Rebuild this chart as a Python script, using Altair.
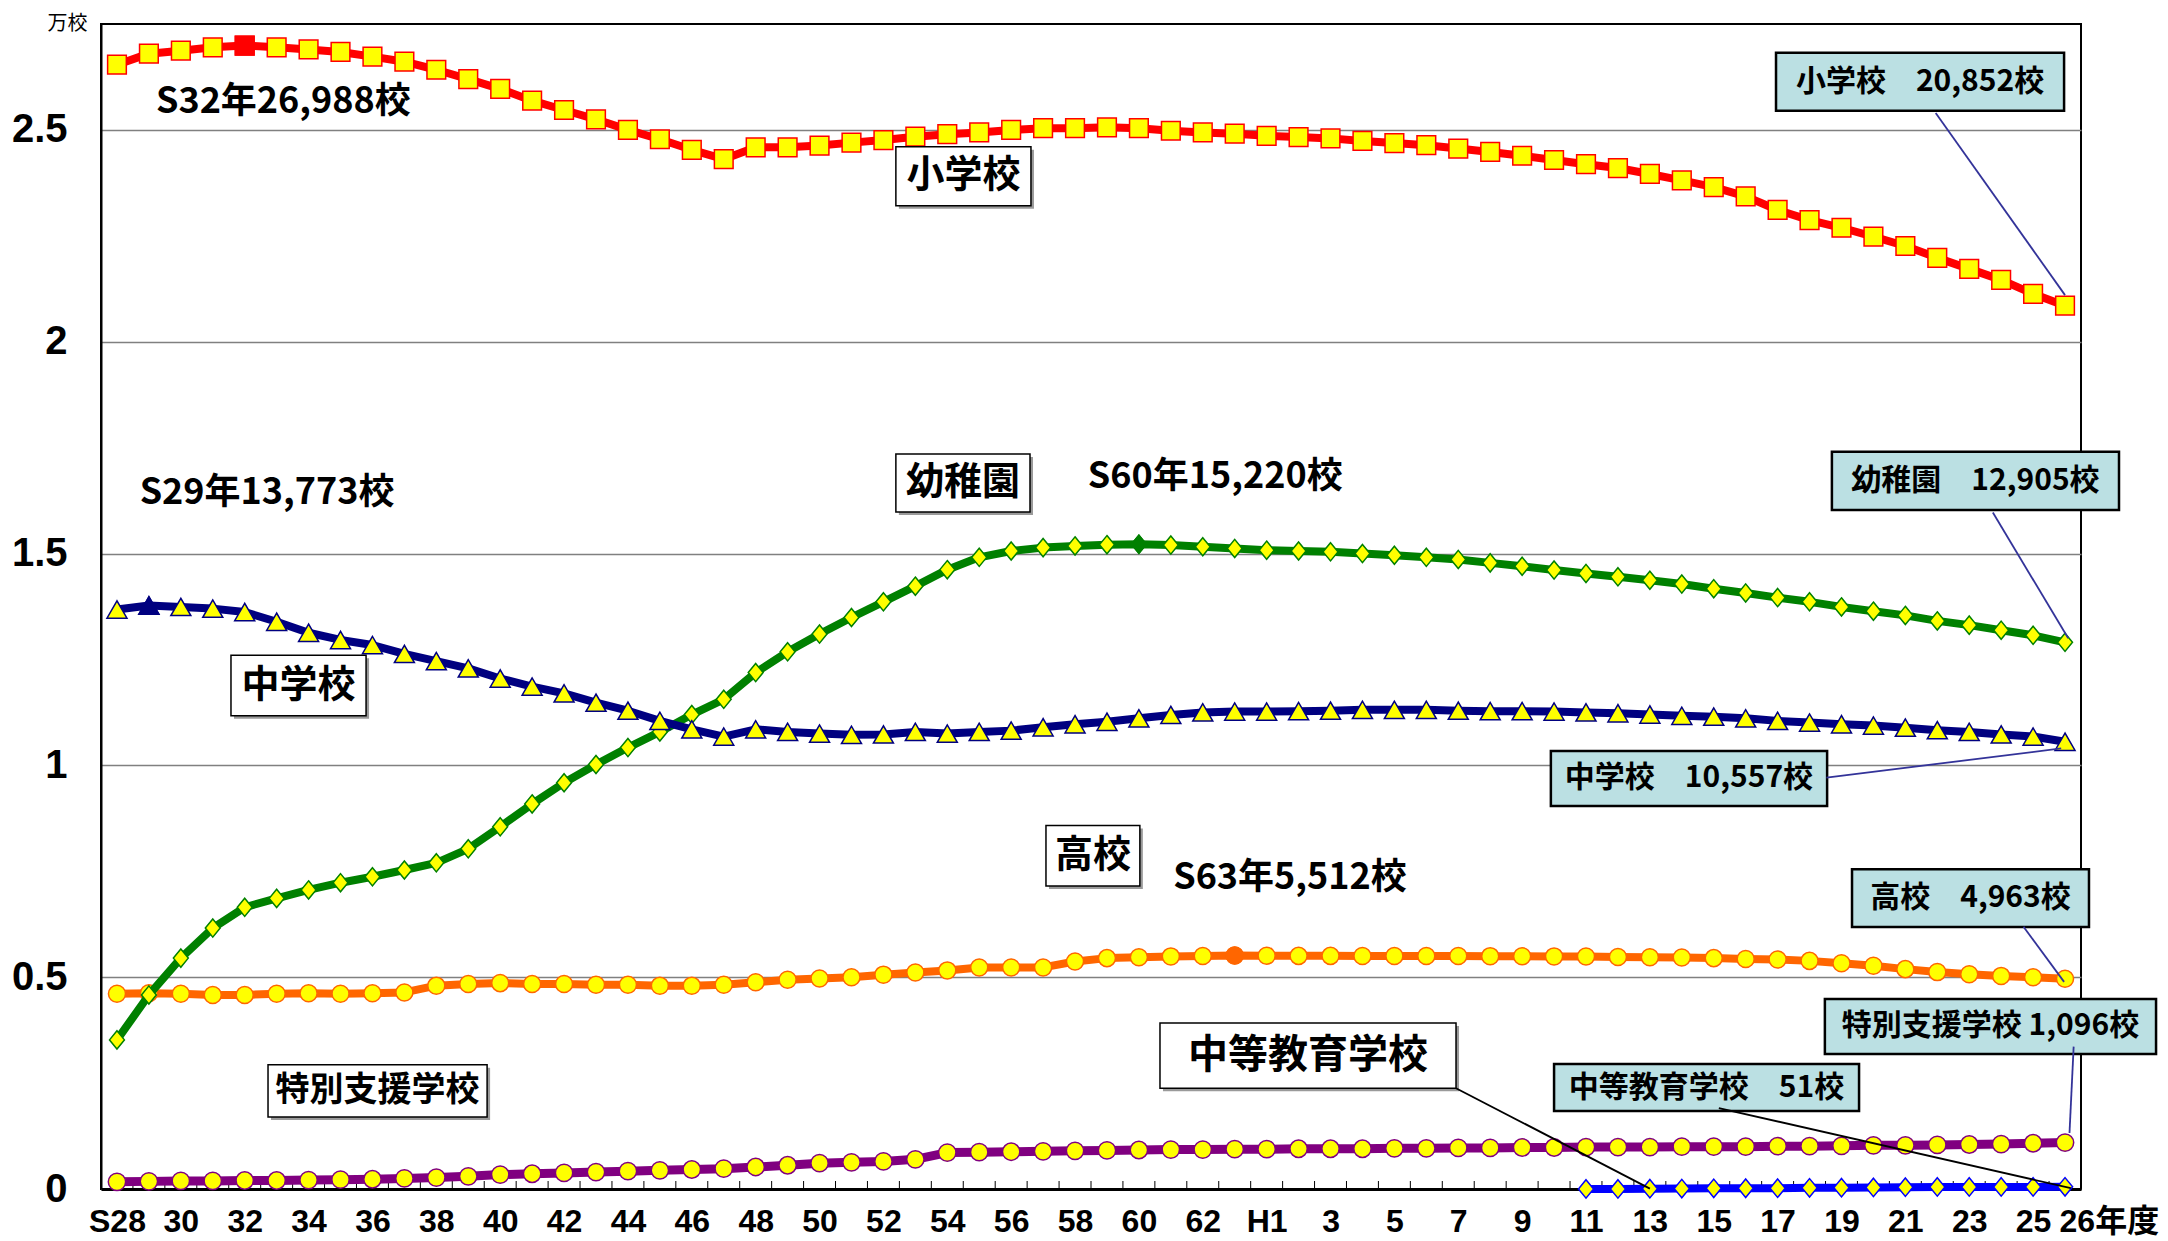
import altair as alt
import pandas as pd

# ---------------- data ----------------
years = ["S28", "S29", "S30", "S31", "S32", "S33", "S34", "S35", "S36", "S37",
         "S38", "S39", "S40", "S41", "S42", "S43", "S44", "S45", "S46", "S47",
         "S48", "S49", "S50", "S51", "S52", "S53", "S54", "S55", "S56", "S57",
         "S58", "S59", "S60", "S61", "S62", "S63",
         "H1", "H2", "H3", "H4", "H5", "H6", "H7", "H8", "H9", "H10",
         "H11", "H12", "H13", "H14", "H15", "H16", "H17", "H18", "H19", "H20",
         "H21", "H22", "H23", "H24", "H25", "H26"]

x_tick_labels = ["S28", "", "30", "", "32", "", "34", "", "36", "",
                 "38", "", "40", "", "42", "", "44", "", "46", "",
                 "48", "", "50", "", "52", "", "54", "", "56", "",
                 "58", "", "60", "", "62", "",
                 "H1", "", "3", "", "5", "", "7", "", "9", "",
                 "11", "", "13", "", "15", "", "17", "", "19", "",
                 "21", "", "23", "", "25", "26年度"]

y_tick_values = [0, 0.5, 1, 1.5, 2, 2.5]

# 単位: 万校
elementary = [2.654, 2.680, 2.687, 2.695, 2.699, 2.695, 2.690, 2.684, 2.673, 2.661,
              2.642, 2.620, 2.597, 2.569, 2.547, 2.525, 2.500, 2.478, 2.453, 2.431,
              2.459, 2.459, 2.463, 2.470, 2.476, 2.484, 2.490, 2.494, 2.500, 2.504,
              2.504, 2.506, 2.504, 2.498, 2.494, 2.491,
              2.486, 2.483, 2.480, 2.474, 2.469, 2.464, 2.456, 2.448, 2.439, 2.429,
              2.419, 2.410, 2.396, 2.381, 2.365, 2.343, 2.311, 2.287, 2.269, 2.248,
              2.226, 2.198, 2.172, 2.146, 2.113, 2.0852]

junior_high = [1.368, 1.3773, 1.374, 1.370, 1.362, 1.339, 1.313, 1.296, 1.284, 1.263,
               1.246, 1.229, 1.205, 1.186, 1.170, 1.148, 1.129, 1.105, 1.085, 1.068,
               1.085, 1.079, 1.075, 1.072, 1.073, 1.079, 1.075, 1.079, 1.082, 1.090,
               1.097, 1.103, 1.111, 1.119, 1.125, 1.127,
               1.127, 1.128, 1.129, 1.131, 1.131, 1.131, 1.129, 1.128, 1.128, 1.127,
               1.125, 1.123, 1.120, 1.117, 1.115, 1.111, 1.105, 1.101, 1.097, 1.094,
               1.089, 1.083, 1.079, 1.073, 1.068, 1.0557]

kindergarten = [0.352, 0.458, 0.545, 0.616, 0.665, 0.686, 0.706, 0.723, 0.737, 0.753,
                0.770, 0.803, 0.855, 0.909, 0.959, 1.002, 1.042, 1.079, 1.120, 1.156,
                1.219, 1.268, 1.310, 1.349, 1.386, 1.423, 1.462, 1.491, 1.506, 1.514,
                1.518, 1.521, 1.522, 1.520, 1.516, 1.512,
                1.508, 1.506, 1.504, 1.500, 1.496, 1.491, 1.486, 1.478, 1.470, 1.461,
                1.453, 1.445, 1.437, 1.428, 1.417, 1.407, 1.396, 1.386, 1.374, 1.364,
                1.354, 1.341, 1.331, 1.319, 1.307, 1.2905]

high_school = [0.461, 0.462, 0.461, 0.458, 0.458, 0.461, 0.462, 0.461, 0.462, 0.464,
               0.480, 0.484, 0.486, 0.484, 0.484, 0.482, 0.482, 0.480, 0.480, 0.482,
               0.488, 0.494, 0.497, 0.500, 0.506, 0.511, 0.516, 0.523, 0.523, 0.523,
               0.537, 0.545, 0.547, 0.549, 0.550, 0.5512,
               0.5506, 0.5503, 0.5503, 0.5501, 0.5501, 0.5501, 0.5501, 0.5496, 0.5493, 0.5490,
               0.5488, 0.5478, 0.5470, 0.5466, 0.5450, 0.5429, 0.5418, 0.5385, 0.5330, 0.5270,
               0.5190, 0.5120, 0.5070, 0.5030, 0.5000, 0.4963]

special_support = [0.017, 0.018, 0.019, 0.019, 0.020, 0.020, 0.021, 0.022, 0.023, 0.025,
                   0.027, 0.030, 0.034, 0.036, 0.038, 0.040, 0.042, 0.044, 0.046, 0.048,
                   0.052, 0.056, 0.061, 0.063, 0.065, 0.070, 0.086, 0.087, 0.088, 0.089,
                   0.090, 0.091, 0.092, 0.093, 0.093, 0.094,
                   0.094, 0.095, 0.095, 0.095, 0.096, 0.096, 0.097, 0.097, 0.098, 0.098,
                   0.099, 0.099, 0.099, 0.100, 0.100, 0.100, 0.101, 0.101, 0.102, 0.103,
                   0.103, 0.104, 0.105, 0.106, 0.108, 0.1096]

secondary = [None] * 46 + [0.0001, 0.0002, 0.0007, 0.0009, 0.0016, 0.0018, 0.0019, 0.0027,
                           0.0032, 0.0037, 0.0042, 0.0048, 0.0049, 0.0049, 0.0050, 0.0051]

# annotations (data coordinates: x = category position, y = 万校)
note_text = ["S32年26,988校", "S29年13,773校", "S60年15,220校", "S63年5,512校"]
note_x = [5.21, 4.70, 34.39, 36.73]
note_y = [2.567, 1.642, 1.681, 0.734]

label_text = ["小学校", "中学校", "幼稚園", "高校", "特別支援学校", "中等教育学校"]
label_x0 = [24.39, 3.57, 24.39, 29.09, 4.73, 32.66]
label_x1 = [28.62, 7.80, 28.59, 32.03, 11.59, 41.93]
label_y0 = [2.460, 1.260, 1.735, 0.858, 0.293, 0.392]
label_y1 = [2.321, 1.117, 1.598, 0.715, 0.170, 0.238]
label_fs = [38, 38, 38, 38, 34, 40]

callout_text = ["小学校　20,852校", "幼稚園　12,905校", "中学校　10,557校",
                "高校　4,963校", "特別支援学校 1,096校", "中等教育学校　51校"]
callout_x0 = [51.95, 53.70, 44.90, 54.33, 53.48, 45.00]
callout_x1 = [60.97, 62.69, 53.55, 61.75, 63.85, 54.55]
callout_y0 = [2.682, 1.740, 1.034, 0.755, 0.4485, 0.295]
callout_y1 = [2.545, 1.603, 0.904, 0.6185, 0.3187, 0.184]

leader_x0 = [56.95, 58.74, 53.53, 59.70, 61.27, 50.16, 41.93]
leader_y0 = [2.540, 1.597, 0.971, 0.619, 0.336, 0.191, 0.238]
leader_x1 = [61.0, 61.1, 60.88, 60.97, 61.14, 61.18, 48.0]
leader_y1 = [2.11, 1.30, 1.040, 0.489, 0.132, 0.002, 0.001]
leader_color = ["#333399", "#333399", "#333399", "#333399", "#333399", "black", "black"]

# ---------------- chart ----------------
N = len(years)
positions = list(range(N))
W, H = 1980, 1165
JP = "Noto Sans CJK JP"
TALL_DIAMOND = "M0,-1L0.82,0L0,1L-0.82,0Z"

xs = alt.Scale(domain=[-0.5, N - 0.5], nice=False, zero=False)
ys = alt.Scale(domain=[0, 2.75], nice=False)

label_js = "[" + ",".join("'" + s + "'" for s in x_tick_labels) + "]"
xaxis = alt.Axis(values=positions, labelExpr=label_js + "[datum.value]", ticks=False,
                 grid=False, domainColor="black", domainWidth=3,
                 labelFont="Liberation Sans, " + JP, labelFontSize=32, labelFontWeight="bold",
                 labelColor="black", labelPadding=17, labelOverlap=False, labelFlush=False,
                 labelAlign={"condition": {"test": "datum.value == %d" % (N - 1), "value": "left"},
                             "value": "center"},
                 labelOffset={"condition": {"test": "datum.value == %d" % (N - 1), "value": -6},
                              "value": 0},
                 title=None)
yaxis = alt.Axis(values=y_tick_values, format=".1~f", ticks=False, grid=True,
                 gridColor="#808080", gridWidth=1.5, domainColor="black", domainWidth=2,
                 labelFont="Liberation Sans", labelFontSize=40, labelFontWeight="bold",
                 labelColor="black", labelPadding=34,
                 title="万校", titleAngle=0, titleX=-34, titleY=-1, titleAlign="center",
                 titleBaseline="middle", titleFont=JP, titleFontSize=20,
                 titleFontWeight="normal", titleColor="black")


def X(f):
    return alt.X(f, scale=xs, axis=xaxis)


def Y(f):
    return alt.Y(f, scale=ys, axis=yaxis)


series = [
    ("中等教育学校", secondary, "#0000FF", TALL_DIAMOND, 340, None, 8),
    ("特別支援学校", special_support, "#800080", "circle", 300, None, 9),
    ("高校", high_school, "#FF6600", "circle", 290, "S63", 8),
    ("幼稚園", kindergarten, "#008000", TALL_DIAMOND, 330, "S60", 8),
    ("小学校", elementary, "#FF0000", "square", 350, "S32", 8),
    ("中学校", junior_high, "#000080", "triangle-up", 400, "S29", 8),
]

layers = []
tick_df = pd.DataFrame({"b": [p - 0.5 for p in positions[1:]]})
layers.append(alt.Chart(tick_df).mark_rule(color="black", strokeWidth=1).encode(
    x=X("b:Q"), y=alt.value(H), y2=alt.value(H - 8)))

for name, vals, col, shape, size, peak, lw in series:
    df = pd.DataFrame({"pos": positions, "year": years, "value": vals}).dropna()
    base = alt.Chart(df)
    layers.append(base.mark_line(color=col, strokeWidth=lw, strokeJoin="round").encode(
        x=X("pos:Q"), y=Y("value:Q")))
    layers.append(base.mark_point(shape=shape, size=size, filled=True, fill="#FFFF00",
                                  stroke=col, strokeWidth=1.5, opacity=1).encode(
        x=X("pos:Q"), y=Y("value:Q")))
    if peak:
        layers.append(base.transform_filter(alt.datum.year == peak).mark_point(
            shape=shape, size=size, filled=True, fill=col, stroke=col,
            strokeWidth=1.5, opacity=1).encode(x=X("pos:Q"), y=Y("value:Q")))

lab_df = pd.DataFrame({"t": label_text, "x0": label_x0, "x1": label_x1,
                       "y0": label_y0, "y1": label_y1, "fs": label_fs})
lab = alt.Chart(lab_df)
layers.append(lab.mark_rect(fill="#9a9a9a", xOffset=3, x2Offset=3, yOffset=3, y2Offset=3).encode(
    x=X("x0:Q"), x2="x1:Q", y=Y("y0:Q"), y2="y1:Q"))
layers.append(lab.mark_rect(fill="white", stroke="black", strokeWidth=1.5).encode(
    x=X("x0:Q"), x2="x1:Q", y=Y("y0:Q"), y2="y1:Q"))
layers.append(lab.transform_calculate(cx="(datum.x0+datum.x1)/2", cy="(datum.y0+datum.y1)/2")
              .mark_text(font=JP, fontWeight="bold", color="black", align="center",
                         baseline="middle").encode(
    x=X("cx:Q"), y=Y("cy:Q"), text="t:N", size=alt.Size("fs:Q", scale=None)))

co_df = pd.DataFrame({"t": callout_text, "x0": callout_x0, "x1": callout_x1,
                      "y0": callout_y0, "y1": callout_y1})
co = alt.Chart(co_df)
layers.append(co.mark_rect(fill="#BBE0E3", stroke="black", strokeWidth=2.5).encode(
    x=X("x0:Q"), x2="x1:Q", y=Y("y0:Q"), y2="y1:Q"))
layers.append(co.transform_calculate(cx="(datum.x0+datum.x1)/2", cy="(datum.y0+datum.y1)/2")
              .mark_text(font=JP, fontWeight="bold", fontSize=30, color="black",
                         align="center", baseline="middle").encode(
    x=X("cx:Q"), y=Y("cy:Q"), text="t:N"))

ld_df = pd.DataFrame({"x0": leader_x0, "y0": leader_y0, "x1": leader_x1,
                      "y1": leader_y1, "c": leader_color})
layers.append(alt.Chart(ld_df).mark_rule(strokeWidth=1.8).encode(
    x=X("x0:Q"), x2="x1:Q", y=Y("y0:Q"), y2="y1:Q",
    color=alt.Color("c:N", scale=None)))

nt_df = pd.DataFrame({"t": note_text, "x": note_x, "y": note_y})
layers.append(alt.Chart(nt_df).mark_text(font=JP, fontWeight="bold", fontSize=36,
                                         color="black", align="center",
                                         baseline="middle").encode(
    x=X("x:Q"), y=Y("y:Q"), text="t:N"))

chart = alt.layer(*layers).properties(
    width=W, height=H,
    padding={"left": 93, "top": 16, "right": 79, "bottom": 52},
    autosize=alt.AutoSizeParams(type="none"),
    background="white",
).configure_view(stroke="black", strokeWidth=2)

chart.save("out.html", embed_options={"renderer": "svg", "actions": False})
